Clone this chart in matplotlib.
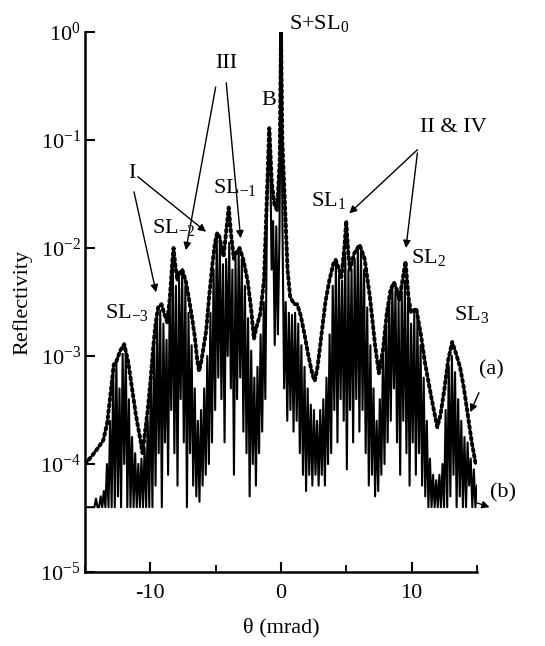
import numpy as np
import matplotlib
matplotlib.use("Agg")
import matplotlib.pyplot as plt
from matplotlib.ticker import FixedLocator, NullLocator

plt.rcParams['font.family'] = ['Liberation Serif', 'DejaVu Serif']
plt.rcParams['mathtext.fontset'] = 'custom'
plt.rcParams['mathtext.rm'] = 'Liberation Serif'
plt.rcParams['mathtext.it'] = 'Liberation Serif:italic'
plt.rcParams['axes.unicode_minus'] = False
plt.rcParams['font.size'] = 16

# ---- curve (a): measured data, theta (mrad) and log10(reflectivity) ----
a_theta = [-15.0, -14.5, -14.0, -13.6, -13.3, -13.0, -12.8, -12.6, -12.3, -12.0,
           -11.7, -11.4, -11.1, -10.8, -10.6, -10.4, -10.2, -10.0, -9.8, -9.6,
           -9.4, -9.15, -8.9, -8.7, -8.5, -8.3, -8.22, -8.1, -7.93, -7.75,
           -7.56, -7.3, -7.07, -6.8, -6.59, -6.4, -6.27, -6.1, -5.9, -5.73,
           -5.5, -5.24, -5.05, -4.88, -4.7, -4.5, -4.39, -4.2, -4.0, -3.8,
           -3.6, -3.4, -3.17, -2.9, -2.56, -2.3, -2.07, -1.85, -1.59, -1.3,
           -1.1, -0.9, -0.7, -0.5, -0.3, -0.1, 0.0, 0.1, 0.3, 0.5,
           0.7, 1.0, 1.23, 1.5, 1.8, 2.1, 2.4, 2.58, 2.8, 3.1,
           3.4, 3.7, 4.0, 4.18, 4.45, 4.62, 4.85, 4.99, 5.15, 5.28,
           5.6, 6.02, 6.4, 6.8, 7.2, 7.49, 7.8, 8.1, 8.4, 8.65,
           8.9, 9.04, 9.3, 9.53, 9.75, 9.95, 10.35, 10.7, 11.03, 11.5,
           11.96, 12.2, 12.5, 12.79, 13.1, 13.4, 13.7, 14.0, 14.3, 14.6,
           14.9]
a_log = [-4.0, -3.93, -3.85, -3.78, -3.62, -3.3, -3.08, -3.05, -2.95, -2.89,
         -3.05, -3.3, -3.55, -3.75, -3.9, -3.7, -3.5, -3.25, -2.95, -2.7,
         -2.55, -2.52, -2.62, -2.69, -2.45, -2.1, -2.0, -2.15, -2.3, -2.23,
         -2.2, -2.3, -2.45, -2.65, -2.83, -3.05, -3.14, -3.05, -2.9, -2.77,
         -2.45, -2.14, -1.95, -1.86, -1.9, -2.02, -2.08, -1.85, -1.625, -1.9,
         -2.1, -2.04, -2.0, -2.1, -2.3, -2.55, -2.84, -2.72, -2.61, -2.3,
         -1.6, -0.89, -1.4, -1.6, -1.65, -1.2, 0.0, -1.0, -1.6, -2.2,
         -2.45, -2.52, -2.52, -2.62, -2.8, -3.0, -3.17, -3.23, -3.1, -2.8,
         -2.5, -2.3, -2.15, -2.11, -2.2, -2.27, -2.0, -1.75, -2.05, -2.2,
         -2.05, -1.97, -2.1, -2.45, -2.9, -3.16, -2.95, -2.6, -2.38, -2.32,
         -2.4, -2.48, -2.3, -2.125, -2.45, -2.6, -2.56, -2.8, -3.07, -3.38,
         -3.66, -3.55, -3.31, -3.04, -2.87, -2.98, -3.1, -3.3, -3.55, -3.8,
         -4.0]

# ---- curve (b): simulation, sampled every 0.12 mrad from -15 to 15 ----
b_log = [
    # -15.00 .. -13.56
    -4.4, -4.4, -4.4, -4.4, -4.4, -4.4, -4.4, -4.32, -4.4, -4.4, -4.3, -4.4, -4.25,
    # -13.44 .. -10.08
    -4.4, -4.0, -4.4, -3.6, -4.4, -3.15, -4.4, -3.05, -4.3, -3.3,
    -4.4, -2.98, -4.0, -2.95, -4.4, -3.4, -4.4, -3.75, -4.4, -3.9,
    -4.4, -4.0, -4.4, -3.95, -4.4, -3.85, -4.4, -3.6, -4.4,
    # -9.96 .. -6.00
    -3.2, -4.4, -2.9, -4.2, -2.65, -3.9, -2.58, -4.4, -2.7, -3.8,
    -2.85, -4.1, -2.5, -3.5, -2.15, -3.9, -2.35, -4.2, -2.3, -3.4,
    -2.22, -3.8, -2.35, -4.4, -2.6, -3.9, -2.9, -4.2, -3.3, -4.3,
    -3.6, -4.35, -3.5, -4.2,
    # -5.88 .. -2.04
    -3.3, -4.1, -3.0, -4.0, -2.6, -3.8, -2.2, -3.5, -1.9, -3.2,
    -1.95, -3.4, -2.15, -3.8, -2.1, -3.0, -1.95, -3.3, -2.2, -4.1,
    -2.1, -3.4, -2.02, -3.2, -2.1, -3.7, -2.35, -3.9, -2.65, -4.3,
    -2.95, -4.0, -3.2,
    # -1.92 .. -0.12
    -4.2, -3.1, -3.9, -2.8, -3.7, -2.5, -3.4, -1.7, -1.1, -0.95,
    -2.2, -1.75, -2.9, -1.8, -2.8, -1.9,
    # 0.00
    0.0,
    # 0.12 .. 3.96
    -1.9, -3.3, -2.5, -3.6, -2.6, -3.5, -2.62, -3.7, -2.6, -3.6,
    -2.7, -3.9, -2.9, -4.1, -3.1, -4.25, -3.3, -4.1, -3.45, -4.2,
    -3.5, -4.1, -3.6, -4.2, -3.5, -4.1, -3.4, -4.2, -3.2, -4.0,
    -2.8, -3.9, -2.35,
    # 4.08 .. 7.92
    -3.5, -2.15, -3.8, -2.25, -3.4, -2.3, -3.6, -2.05, -4.05, -2.2,
    -3.5, -2.2, -3.8, -2.1, -3.4, -2.0, -3.7, -2.0, -3.5, -2.2,
    -3.9, -2.55, -4.2, -2.9, -4.1, -3.3, -4.3, -3.6, -4.25, -3.4,
    -4.1, -3.0, -4.0,
    # 8.04 .. 11.88
    -2.7, -3.8, -2.45, -3.6, -2.35, -3.3, -2.4, -3.8, -2.5, -4.1,
    -2.4, -3.6, -2.3, -3.9, -2.5, -4.2, -2.7, -3.8, -2.6, -4.1,
    -2.65, -3.9, -2.9, -4.2, -3.2, -4.3, -3.6, -4.4, -3.95, -4.4,
    -4.1, -4.4, -4.15,
    # 12.00 .. 15.00
    -4.4, -4.1, -4.4, -4.0, -4.4, -3.5, -4.4, -3.1, -4.3, -3.0,
    -4.1, -3.15, -4.4, -3.4, -4.3, -3.6, -4.4, -3.75, -4.4, -3.8,
    -4.2, -3.95, -4.4, -4.05, -4.4, -4.2]
b_theta = np.round(np.linspace(-15.0, 15.0, len(b_log)), 2)

x_ticks = [-10, 0, 10]
x_minor = [-15, -5, 5, 15]
y_ticks = [1e-5, 1e-4, 1e-3, 1e-2, 1e-1, 1e0]

fig = plt.figure(figsize=(5.45, 6.46), dpi=100)
ax = fig.add_axes([85/545, 1-572/646, 392/545, 540/646])

ax.plot(b_theta, 10.0**np.array(b_log), color='black', lw=1.5)
ax.plot(a_theta, 10.0**np.array(a_log), color='black', lw=2.8,
        linestyle=(0, (0.6, 0.9)), dash_capstyle='round')

ax.set_yscale('log')
ax.set_xlim(-15, 15)
ax.set_ylim(1e-5, 1)
ax.xaxis.set_major_locator(FixedLocator(x_ticks))
ax.xaxis.set_minor_locator(FixedLocator(x_minor))
ax.yaxis.set_major_locator(FixedLocator(y_ticks))
ax.yaxis.set_minor_locator(NullLocator())
for s in ['top', 'right']:
    ax.spines[s].set_visible(False)
for s in ['left', 'bottom']:
    ax.spines[s].set_linewidth(1.8)
ax.tick_params(axis='both', which='major', direction='in', length=7, width=1.5, labelsize=16)
ax.tick_params(axis='x', which='major', pad=9)
ax.tick_params(axis='y', which='major', pad=3)
ax.tick_params(axis='x', which='minor', direction='in', length=5, width=1.3)

ax.set_xlabel('θ (mrad)', fontsize=16)
ax.xaxis.set_label_coords(0.5, -0.085)
ax.set_ylabel('Reflectivity', fontsize=16)
ax.yaxis.set_label_coords(-0.135, 0.5)

txt = dict(fontsize=16, clip_on=False)
ax.text(0.6, 10**0.08, 'S+SL$_0$', ha='left', va='center', **txt)
ax.text(-4.2, 10**-0.29, 'III', ha='center', va='center', **txt)
ax.text(-0.9, 10**-0.63, 'B', ha='center', va='center', **txt)
ax.text(13.2, 10**-0.88, 'II & IV', ha='center', va='center', **txt)
ax.text(-11.4, 10**-1.31, 'I', ha='center', va='center', **txt)
ax.text(-5.2, 10**-1.44, 'SL$_{-1}$', ha='left', va='center', **txt)
ax.text(2.3, 10**-1.56, 'SL$_1$', ha='left', va='center', **txt)
ax.text(-9.9, 10**-1.81, 'SL$_{-2}$', ha='left', va='center', **txt)
ax.text(9.95, 10**-2.09, 'SL$_2$', ha='left', va='center', **txt)
ax.text(-13.5, 10**-2.6, 'SL$_{-3}$', ha='left', va='center', **txt)
ax.text(13.25, 10**-2.62, 'SL$_3$', ha='left', va='center', **txt)
ax.text(15.15, 10**-3.13, '(a)', ha='left', va='center', **txt)
ax.text(16.0, 10**-4.27, '(b)', ha='left', va='center', **txt)

arrows = [((-5.0, -0.51), (-7.28, -2.02)), ((-4.19, -0.47), (-3.09, -1.91)),
          ((-11.25, -1.48), (-9.56, -2.41)), ((-10.96, -1.34), (-5.74, -1.85)),
          ((10.44, -1.09), (5.22, -1.68)), ((10.44, -1.12), (9.56, -2.0)),
          ((15.15, -3.34), (14.49, -3.52)), ((15.0, -4.36), (15.96, -4.4))]
for (tx, ty), (hx, hy) in arrows:
    ax.annotate('', xy=(hx, 10**hy), xytext=(tx, 10**ty), annotation_clip=False,
                arrowprops=dict(arrowstyle='-|>', color='black', lw=1.0,
                                mutation_scale=11, shrinkA=0, shrinkB=0))

fig.savefig('out.png', dpi=100)
